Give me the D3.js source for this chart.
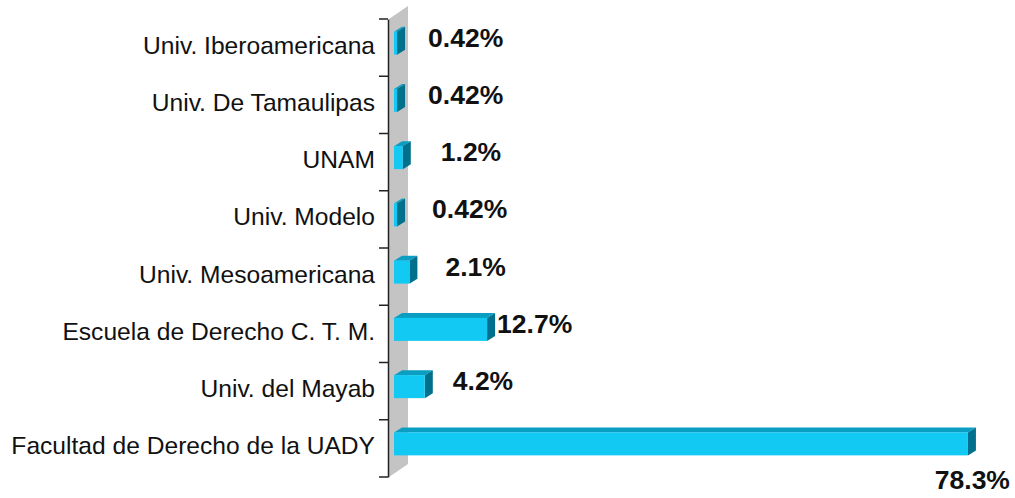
<!DOCTYPE html>
<html>
<head>
<meta charset="utf-8">
<script src="https://cdn.jsdelivr.net/npm/d3@7"></script>
<style>
  body { margin: 0; background: #fff; }
  text { font-family: "Liberation Sans", Arial, sans-serif; }
</style>
</head>
<body>
<svg id="chart" width="1015" height="498"></svg>
<script>
// data, top to bottom
const categories = [
  "Univ. Iberoamericana",
  "Univ. De Tamaulipas",
  "UNAM",
  "Univ. Modelo",
  "Univ. Mesoamericana",
  "Escuela de Derecho C. T. M.",
  "Univ. del Mayab",
  "Facultad de Derecho de la UADY"
];
const values = [0.42, 0.42, 1.2, 0.42, 2.1, 12.7, 4.2, 78.3];
const valueLabels = ["0.42%", "0.42%", "1.2%", "0.42%", "2.1%", "12.7%", "4.2%", "78.3%"];

// label placement tweaks (Excel put them a bit unevenly)
const labelDx = [23, 23, 30, 27, 28, 2, 20, 34];

const svg = d3.select('#chart');
const depthX = 8, depthY = -5;

const x = d3.scaleLinear().domain([0, 80]).range([394, 394 + 80 * 7.33]);
const y = d3.scaleBand().domain(categories).range([19, 477]).padding(0);

// gray back wall
const wx = 389, wdx = 19, wdy = -13;
svg.append('polygon')
  .attr('points', [[wx, 19], [wx + wdx, 19 + wdy], [wx + wdx, 477 + wdy], [wx, 477]].join(' '))
  .attr('fill', '#c4c4c4');

// axis
const axis = d3.axisLeft(y).tickSize(0).tickFormat('');
const gAxis = svg.append('g').attr('transform', 'translate(388,0)').call(axis);
gAxis.select('.domain').attr('stroke', '#222').attr('stroke-width', 1.5);
// ticks between categories
const edges = categories.map(c => y(c)).concat([y.range()[1]]);
gAxis.selectAll('line.edge').data(edges).enter().append('line')
  .attr('class', 'edge')
  .attr('x1', -9).attr('x2', 0)
  .attr('y1', d => d).attr('y2', d => d)
  .attr('stroke', '#222').attr('stroke-width', 1.5);

// category labels
svg.append('g').selectAll('text').data(categories).enter().append('text')
  .attr('x', 375)
  .attr('y', d => y(d) + y.bandwidth() / 2 + 6)
  .attr('text-anchor', 'end')
  .attr('font-size', 24.6)
  .attr('fill', '#111')
  .text(d => d);

// 3d bars
const bars = svg.append('g').selectAll('g').data(values).enter().append('g');
bars.each(function (v, i) {
  const g = d3.select(this);
  const cy = y(categories[i]) + y.bandwidth() / 2;
  const x0 = x(0), x1 = x(v);
  const top = cy - 16, bot = cy + 7;
  // top face
  g.append('polygon')
    .attr('points', [[x0, top], [x0 + depthX, top + depthY], [x1 + depthX, top + depthY], [x1, top]].join(' '))
    .attr('fill', '#0a9fc2');
  // side face
  g.append('polygon')
    .attr('points', [[x1, top], [x1 + depthX, top + depthY], [x1 + depthX, bot + depthY], [x1, bot]].join(' '))
    .attr('fill', '#00708c');
  // front face
  g.append('rect')
    .attr('x', x0).attr('y', top)
    .attr('width', x1 - x0).attr('height', bot - top)
    .attr('fill', '#12c9f3');
});

// value labels
svg.append('g').selectAll('text').data(values).enter().append('text')
  .attr('x', (d, i) => x(d) + depthX + labelDx[i])
  .attr('y', (d, i) => {
    const cy = y(categories[i]) + y.bandwidth() / 2;
    return i === values.length - 1 ? 489 : cy - 1;
  })
  .attr('text-anchor', (d, i) => i === values.length - 1 ? 'end' : 'start')
  .attr('font-size', 26.5)
  .attr('font-weight', 'bold')
  .attr('fill', '#111')
  .text((d, i) => valueLabels[i]);
</script>
</body>
</html>
